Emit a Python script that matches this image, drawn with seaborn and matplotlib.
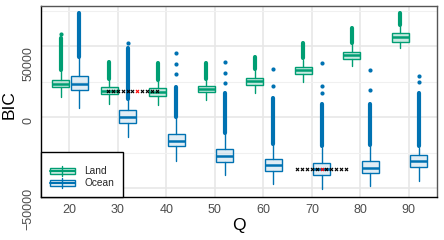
import seaborn as sns
import matplotlib.pyplot as plt
from matplotlib.legend_handler import HandlerBase
from matplotlib.patches import Rectangle
from matplotlib.lines import Line2D
from matplotlib.colors import to_rgba

Q = [20, 30, 40, 50, 60, 70, 80, 90]

# Land boxes
land_whislo = [14300, 9600, 8900, 12000, 16700, 24900, 35900, 48400]
land_q1 = [20900, 16000, 15000, 17400, 22500, 30300, 40800, 53000]
land_med = [23240, 18500, 17600, 19900, 25350, 33100, 43700, 56100]
land_q3 = [26050, 20900, 20200, 22000, 27700, 35400, 46000, 58900]
land_whishi = [32500, 26500, 25500, 26500, 33000, 40500, 51500, 64000]
# dense run of outliers above each box, plus a few lone ones
land_run_lo = [33500, 27200, 26000, 27200, 33600, 41300, 52300, 64800]
land_run_hi = [56000, 38900, 37800, 38200, 42000, 51900, 62500, 73000]
land_dots = [[58200], [], [], [], [], [], [], []]

# Ocean boxes
ocean_whislo = [6800, -13900, -30800, -40400, -46700, -50200, -48100, -44800]
ocean_q1 = [19000, -4000, -20400, -31500, -38000, -40400, -39200, -35000]
ocean_med = [23700, 200, -16700, -27000, -33800, -36600, -35700, -31000]
ocean_q3 = [28900, 4900, -11500, -22700, -29100, -32200, -31000, -26300]
ocean_whishi = [41500, 12000, -500, -12000, -19500, -21500, -20500, -21500]
ocean_run_lo = [42500, 13000, 500, -11000, -18500, -20500, -19500, -20500]
ocean_run_hi = [73000, 48600, 20900, 16700, 13200, 9600, 9150, 16700]
ocean_dots = [[], [51900], [45300, 37300, 30300], [38900, 31200, 24200],
              [33800, 22000], [37800, 21800, 17100], [33100, 19000], [28900, 24900]]

# BIC search traces (black x) and the picked Q (red x)
trace_land_q = [28, 29, 30, 31, 32, 33, 35, 36, 37, 38]
trace_land_bic = [18300, 18300, 18300, 18300, 18300, 18300, 18300, 18300, 18300, 18300]
trace_ocean_q = [67, 68, 69, 70, 71, 73, 74, 75, 76, 77]
trace_ocean_bic = [-36600, -36600, -36600, -36600, -36600, -36600, -36600, -36600, -36600, -36600]
best_q = [34, 72]
best_bic = [18300, -36600]

land_color = "#009E73"
ocean_color = "#0072B2"

sns.set_theme(style="whitegrid")
plt.rcParams["font.family"] = ["Liberation Sans", "DejaVu Sans"]

fig = plt.figure(figsize=(4.44, 2.4), dpi=100)
ax = fig.add_axes([41 / 444, 1 - 197 / 240, 396 / 444, 191 / 240])


def draw_group(offset, color, alpha, whislo, q1, med, q3, whishi, run_lo, run_hi, dots):
    stats = [dict(whislo=a, q1=b, med=c, q3=d, whishi=e, fliers=[])
             for a, b, c, d, e in zip(whislo, q1, med, q3, whishi)]
    pos = [q + offset for q in Q]
    ax.bxp(stats, positions=pos, widths=3.5, showcaps=False, showfliers=False,
           patch_artist=True, manage_ticks=False,
           boxprops=dict(facecolor=to_rgba(color, alpha), edgecolor=color, linewidth=1.0),
           medianprops=dict(color=color, linewidth=1.8, solid_capstyle="butt"),
           whiskerprops=dict(color=color, linewidth=1.0), zorder=3)
    ax.vlines(pos, run_lo, run_hi, colors=color, linewidth=3.0, capstyle="round", zorder=2)
    dx = [p for p, d in zip(pos, dots) for _ in d]
    dy = [v for d in dots for v in d]
    sns.scatterplot(x=dx, y=dy, color=color, s=9, linewidth=0, ax=ax, zorder=2)


draw_group(-1.8, land_color, 0.22, land_whislo, land_q1, land_med, land_q3, land_whishi,
           land_run_lo, land_run_hi, land_dots)
draw_group(2.0, ocean_color, 0.12, ocean_whislo, ocean_q1, ocean_med, ocean_q3, ocean_whishi,
           ocean_run_lo, ocean_run_hi, ocean_dots)

sns.scatterplot(x=trace_land_q + trace_ocean_q, y=trace_land_bic + trace_ocean_bic,
                marker="x", color="black", s=5, linewidth=0.8, ax=ax, zorder=4)
sns.scatterplot(x=best_q, y=best_bic, marker="x", color="#FF0000", s=5, linewidth=0.8,
                ax=ax, zorder=5)

ax.set_xlim(14.15, 95.8)
ax.set_ylim(-56100, 78200)
ax.set_xticks(Q)
ax.set_xticklabels([str(q) for q in Q])
ax.set_yticks([-50000, 0, 50000])
ax.set_yticklabels(["\u221250000", "0", "50000"])
ax.set_yticks([-25000, 25000, 75000], minor=True)
ax.set_axisbelow(True)
ax.grid(which="major", color="#E6E6E6", linewidth=1.1)
ax.grid(which="minor", axis="y", color="#F0F0F0", linewidth=0.8)
ax.grid(which="minor", axis="x", visible=False)

ax.tick_params(which="major", length=3, width=0.8, color="#333333", labelsize=9,
               labelcolor="#4D4D4D", pad=2)
ax.tick_params(which="minor", length=0)
plt.setp(ax.get_yticklabels(), rotation=90, va="top")

for s in ["left", "bottom"]:
    ax.spines[s].set_color("black")
    ax.spines[s].set_linewidth(1.0)
for s in ["top", "right"]:
    ax.spines[s].set_color("#555555")
    ax.spines[s].set_linewidth(1.0)

ax.set_xlabel("Q", fontsize=12.5, color="black")
ax.set_ylabel("BIC", fontsize=12.5, color="black")
ax.xaxis.set_label_coords(0.5, -0.11)
ax.yaxis.set_label_coords(-0.062, 0.484)


class BoxKey(HandlerBase):
    def create_artists(self, legend, orig_handle, x0, y0, width, height, fontsize, trans):
        ec = orig_handle.get_edgecolor()
        fc = orig_handle.get_facecolor()
        cx = -x0 + width / 2
        whisk = Line2D([cx, cx], [-y0 - 0.1 * height, -y0 + 1.1 * height], color=ec, lw=1.0,
                       transform=trans)
        box = Rectangle((-x0, -y0 + 0.1 * height), width, 0.8 * height, facecolor=fc,
                        edgecolor=ec, lw=1.0, transform=trans)
        med = Line2D([-x0, -x0 + width], [-y0 + height / 2] * 2, color=ec, lw=1.5,
                     transform=trans)
        return [whisk, box, med]


handles = [Rectangle((0, 0), 1, 1, facecolor=to_rgba(land_color, 0.22), edgecolor=land_color),
           Rectangle((0, 0), 1, 1, facecolor=to_rgba(ocean_color, 0.12), edgecolor=ocean_color)]
leg = ax.legend(handles, ["Land", "Ocean"], loc="lower left", bbox_to_anchor=(0, 0),
                handler_map={Rectangle: BoxKey()}, frameon=True, fancybox=False,
                edgecolor="black", framealpha=1, fontsize=7.3, handlelength=2.47,
                handleheight=0.87, handletextpad=0.93, borderpad=0.85, labelspacing=0.2,
                borderaxespad=0, title=" ", title_fontsize=3)
leg.get_frame().set_linewidth(1.0)

fig.savefig("out.png", dpi=100)
